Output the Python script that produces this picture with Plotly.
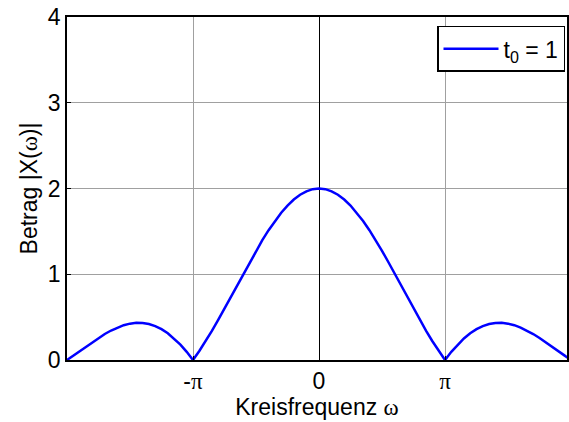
import plotly.graph_objects as go

# angular frequency samples (rad/s), step pi/20 from -2pi to 2pi
omega = [
    -6.2832, -6.1261, -5.9690, -5.8119, -5.6549, -5.4978, -5.3407, -5.1836, -5.0265, -4.8695,
    -4.7124, -4.5553, -4.3982, -4.2412, -4.0841, -3.9270, -3.7699, -3.6128, -3.4558, -3.2987,
    -3.1416, -2.9845, -2.8274, -2.6704, -2.5133, -2.3562, -2.1991, -2.0420, -1.8850, -1.7279,
    -1.5708, -1.4137, -1.2566, -1.0996, -0.9425, -0.7854, -0.6283, -0.4712, -0.3142, -0.1571,
    0.0,
    0.1571, 0.3142, 0.4712, 0.6283, 0.7854, 0.9425, 1.0996, 1.2566, 1.4137, 1.5708,
    1.7279, 1.8850, 2.0420, 2.1991, 2.3562, 2.5133, 2.6704, 2.8274, 2.9845, 3.1416,
    3.2987, 3.4558, 3.6128, 3.7699, 3.9270, 4.0841, 4.2412, 4.3982, 4.5553, 4.7124,
    4.8695, 5.0265, 5.1836, 5.3407, 5.4978, 5.6549, 5.8119, 5.9690, 6.1261, 6.2832,
]

# magnitude |X(omega)|
magnitude = [
    0.000, 0.051, 0.104, 0.156, 0.208, 0.257, 0.303, 0.344, 0.378, 0.406,
    0.424, 0.434, 0.432, 0.420, 0.396, 0.360, 0.312, 0.251, 0.179, 0.095,
    0.000, 0.105, 0.219, 0.340, 0.468, 0.600, 0.736, 0.873, 1.009, 1.143,
    1.273, 1.397, 1.514, 1.621, 1.717, 1.801, 1.871, 1.927, 1.967, 1.992,
    2.000,
    1.992, 1.967, 1.927, 1.871, 1.801, 1.717, 1.621, 1.514, 1.397, 1.273,
    1.143, 1.009, 0.873, 0.736, 0.600, 0.468, 0.340, 0.219, 0.105, 0.000,
    0.095, 0.179, 0.251, 0.312, 0.360, 0.396, 0.420, 0.432, 0.434, 0.424,
    0.406, 0.378, 0.344, 0.303, 0.257, 0.208, 0.156, 0.104, 0.051, 0.000,
]

SERIF = "font-family:Liberation Serif;font-size:23px"
x_tickvals = [-3.14159265, 0.0, 3.14159265]
x_ticktext = [f"-<span style='{SERIF}'>π</span>", "0",
              f"<span style='{SERIF}'>π</span>"]
y_tickvals = [0, 1, 2, 3, 4]

FONT = "Liberation Sans, Arial, sans-serif"

fig = go.Figure()
fig.add_trace(go.Scatter(
    x=omega, y=magnitude, mode="lines",
    line=dict(color="#0000ff", width=2.5),
    name="t<sub>0</sub> = 1",
))

fig.update_layout(
    width=569, height=422,
    margin=dict(l=67, r=0, t=17, b=62),
    paper_bgcolor="white", plot_bgcolor="white",
    font=dict(family=FONT, size=23, color="black"),
    showlegend=True,
    legend=dict(
        x=0.996, y=0.974, xanchor="right", yanchor="top",
        bgcolor="white", bordercolor="black", borderwidth=1.5,
        font=dict(size=23, family=FONT),
        itemwidth=55,
    ),
    xaxis=dict(
        range=[-6.2832, 6.183],
        tickvals=x_tickvals, ticktext=x_ticktext,
        showgrid=True, gridcolor="#a0a0a0", gridwidth=1,
        zeroline=True, zerolinecolor="black", zerolinewidth=1.2,
        showline=True, linecolor="black", linewidth=1.5, mirror=True,
        ticks="inside", ticklen=4, tickcolor="black",
        tickfont=dict(size=23), ticklabeloverflow="allow",
        title=dict(text=f"Kreisfrequenz <span style='{SERIF}'>ω</span>",
                   font=dict(size=23), standoff=2),
    ),
    yaxis=dict(
        range=[0, 4],
        tickvals=y_tickvals,
        showgrid=True, gridcolor="#a0a0a0", gridwidth=1,
        zeroline=False,
        showline=True, linecolor="black", linewidth=1.5, mirror=True,
        ticks="inside", ticklen=4, tickcolor="black",
        tickfont=dict(size=23), ticklabeloverflow="allow",
        title=dict(text=f"Betrag |X(<span style='{SERIF}'>ω</span>)|",
                   font=dict(size=23), standoff=4),
    ),
)

fig.write_html(
    "out.html",
    config={"displayModeBar": False},
    post_script="document.body.style.margin='0px';document.documentElement.style.overflow='hidden';",
)
